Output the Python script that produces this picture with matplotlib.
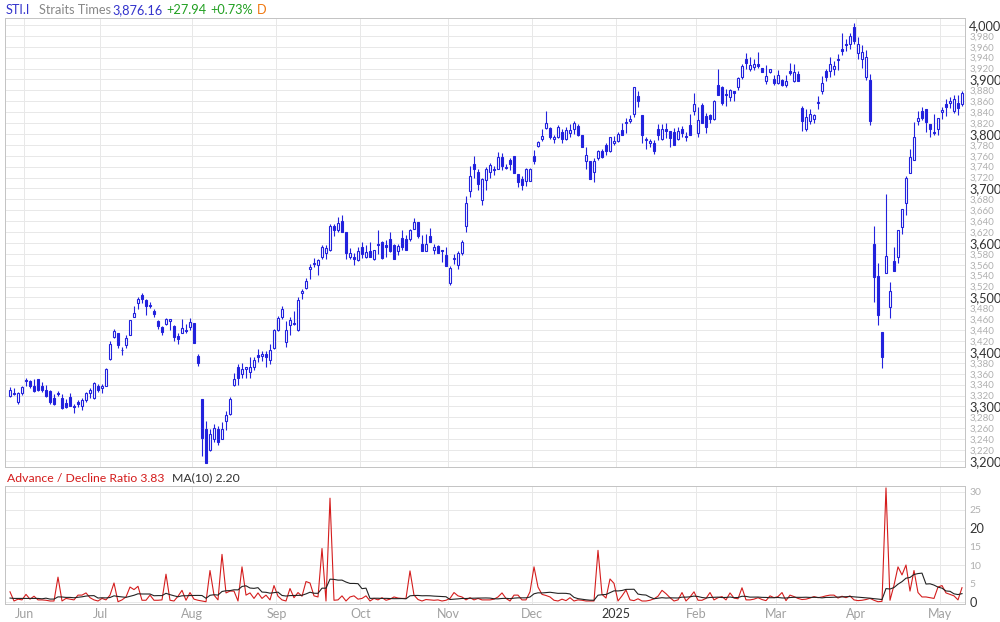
import matplotlib
matplotlib.use('Agg')
import matplotlib.pyplot as plt
import numpy as np
import pandas as pd
from matplotlib.ticker import MultipleLocator, FuncFormatter, FixedLocator

plt.rcParams['font.family'] = ['Lato', 'DejaVu Sans']

opens = [3320,3325,3309,3325,3348,3347,3338,3350,3338,3331,
         3328,3316,3324,3315,3306,3317,3300,3308,3300,3312,
         3324,3315,3338,3333,3338,3387,3428,3435,3403,3412,
         3432,3465,3489,3505,3496,3487,3476,3456,3446,3451,
         3456,3448,3430,3435,3441,3445,3453,3393,3313,3259,
         3220,3240,3258,3241,3274,3287,3339,3372,3360,3368,
         3363,3372,3395,3393,3397,3386,3408,3441,3465,3418,
         3450,3454,3441,3508,3517,3552,3561,3560,3575,3581,
         3587,3632,3624,3640,3620,3574,3574,3569,3592,3574,
         3585,3570,3599,3602,3596,3607,3596,3586,3609,3608,
         3607,3626,3639,3599,3586,3613,3588,3594,3588,3577,
         3526,3570,3560,3582,3631,3695,3744,3730,3678,3716,
         3730,3735,3736,3758,3738,3753,3760,3727,3718,3713,
         3713,3760,3778,3791,3811,3811,3790,3794,3804,3791,
         3802,3810,3815,3798,3751,3751,3730,3756,3769,3779,
         3769,3783,3788,3807,3821,3824,3837,3870,3834,3789,
         3784,3784,3810,3790,3810,3806,3804,3791,3809,3797,
         3816,3842,3801,3853,3833,3834,3827,3890,3886,3873,
         3867,3878,3886,3905,3938,3920,3922,3928,3921,3898,
         3913,3900,3893,3899,3890,3915,3897,3910,3848,3810,
         3823,3827,3857,3878,3916,3915,3920,3937,3955,3965,
         3966,3996,3948,3937,3905,3899,3599,3539,3437,3545,
         3483,3566,3575,3630,3673,3728,3753,3823,3843,3845,
         3819,3804,3810,3840,3855,3857,3843,3856,3855]

highs = [3336,3333,3326,3337,3353,3349,3350,3350,3345,3339,
         3331,3322,3328,3322,3314,3325,3305,3311,3316,3327,
         3333,3345,3342,3341,3371,3420,3442,3435,3409,3431,
         3459,3484,3501,3508,3498,3491,3479,3459,3447,3462,
         3461,3449,3435,3461,3452,3462,3453,3396,3314,3274,
         3258,3268,3265,3271,3292,3317,3361,3377,3379,3372,
         3391,3391,3405,3401,3401,3415,3443,3466,3484,3457,
         3465,3475,3500,3516,3536,3561,3572,3570,3597,3596,
         3634,3635,3647,3651,3620,3590,3582,3592,3601,3597,
         3602,3588,3624,3604,3605,3620,3598,3599,3623,3615,
         3626,3645,3639,3614,3616,3628,3599,3597,3588,3592,
         3557,3579,3585,3605,3686,3741,3760,3736,3720,3740,
         3747,3741,3766,3765,3745,3755,3760,3727,3723,3738,
         3738,3771,3788,3810,3842,3813,3799,3816,3809,3813,
         3818,3823,3818,3798,3776,3751,3755,3771,3773,3783,
         3795,3796,3804,3821,3829,3835,3887,3878,3834,3795,
         3791,3789,3818,3818,3820,3806,3811,3812,3815,3804,
         3837,3876,3849,3857,3839,3837,3862,3919,3888,3883,
         3882,3878,3905,3928,3948,3941,3938,3950,3921,3926,
         3919,3909,3917,3900,3909,3931,3928,3916,3851,3846,
         3846,3837,3870,3906,3919,3942,3934,3947,3986,3975,
         3986,4003,3978,3963,3954,3910,3632,3563,3437,3689,
         3528,3592,3624,3662,3722,3773,3822,3843,3849,3845,
         3819,3837,3830,3849,3864,3867,3871,3872,3878]

lows = [3317,3321,3305,3321,3338,3334,3327,3329,3326,3317,
        3304,3303,3319,3295,3298,3300,3288,3299,3294,3309,
        3316,3314,3327,3325,3337,3386,3425,3407,3395,3408,
        3431,3464,3478,3489,3467,3480,3465,3443,3431,3450,
        3440,3421,3415,3434,3434,3440,3417,3374,3209,3197,
        3219,3234,3229,3240,3257,3285,3338,3339,3352,3353,
        3353,3366,3382,3383,3372,3378,3405,3438,3461,3410,
        3432,3450,3439,3497,3515,3533,3556,3542,3570,3571,
        3586,3612,3620,3620,3571,3570,3559,3566,3573,3573,
        3574,3568,3580,3571,3575,3583,3571,3577,3588,3587,
        3604,3625,3609,3586,3586,3602,3580,3581,3565,3557,
        3522,3561,3553,3577,3620,3684,3720,3697,3669,3698,
        3719,3725,3735,3734,3735,3734,3729,3703,3698,3705,
        3713,3744,3777,3787,3809,3791,3784,3793,3784,3789,
        3795,3800,3796,3777,3736,3718,3712,3752,3755,3761,
        3766,3779,3786,3799,3802,3821,3831,3850,3784,3773,
        3777,3763,3789,3789,3793,3777,3779,3789,3795,3788,
        3799,3835,3794,3820,3801,3820,3826,3871,3853,3851,
        3861,3861,3880,3901,3920,3915,3917,3921,3913,3891,
        3911,3889,3892,3888,3887,3908,3895,3897,3805,3806,
        3818,3821,3846,3873,3898,3904,3909,3917,3944,3953,
        3956,3965,3937,3921,3899,3817,3492,3449,3370,3545,
        3463,3548,3564,3616,3651,3728,3753,3816,3826,3804,
        3795,3798,3799,3828,3833,3848,3838,3835,3852]

closes = [3330,3323,3324,3336,3346,3337,3328,3330,3330,3320,
          3308,3305,3323,3297,3299,3301,3299,3304,3312,3325,
          3330,3343,3330,3337,3368,3414,3438,3412,3403,3425,
          3458,3472,3497,3498,3485,3485,3469,3447,3436,3460,
          3460,3428,3424,3444,3439,3455,3417,3380,3242,3197,
          3249,3260,3235,3258,3285,3314,3351,3353,3368,3372,
          3372,3386,3391,3397,3390,3404,3441,3462,3478,3440,
          3459,3451,3495,3512,3531,3556,3563,3569,3593,3591,
          3632,3623,3636,3621,3581,3581,3571,3585,3579,3583,
          3575,3588,3597,3572,3593,3585,3571,3594,3593,3588,
          3624,3639,3612,3586,3599,3602,3592,3582,3586,3557,
          3554,3570,3581,3602,3673,3723,3736,3709,3718,3736,
          3743,3733,3757,3741,3738,3744,3729,3711,3706,3735,
          3736,3750,3785,3797,3821,3794,3794,3812,3790,3807,
          3808,3820,3798,3777,3761,3718,3750,3768,3758,3769,
          3794,3787,3800,3799,3821,3828,3886,3860,3799,3789,
          3788,3769,3799,3810,3806,3793,3779,3806,3802,3795,
          3799,3855,3826,3821,3813,3828,3861,3872,3857,3871,
          3880,3876,3902,3925,3931,3927,3928,3925,3913,3906,
          3919,3894,3908,3889,3897,3912,3913,3897,3823,3831,
          3836,3834,3857,3893,3905,3928,3925,3935,3953,3963,
          3980,3970,3966,3951,3941,3823,3538,3467,3391,3576,
          3511,3548,3624,3662,3719,3757,3794,3830,3830,3822,
          3810,3801,3830,3844,3850,3861,3865,3848,3876]

ad_ratio = [2.7,0.2,0.7,0.5,2.0,0.7,1.5,0.5,0.5,0.4,
            0.2,0.2,6.7,0.2,0.9,0.7,0.5,1.8,1.8,2.4,
            1.1,0.5,0.2,0.9,0.5,1.8,5.1,0.0,0.5,1.3,
            4.0,3.3,4.2,0.4,0.4,1.8,0.4,0.4,0.5,7.5,
            0.4,0.2,1.5,3.1,0.4,2.5,0.7,0.4,0.2,0.0,
            8.5,1.8,0.5,12.9,2.4,2.9,2.9,0.2,9.5,1.8,
            2.4,0.9,2.4,0.9,1.8,0.5,4.4,1.5,0.5,0.2,
            3.6,1.1,2.5,1.5,5.5,5.1,1.6,1.3,14.5,0.2,
            28.2,0.4,0.5,1.6,0.2,1.3,1.6,0.7,0.9,1.6,
            0.2,0.9,0.5,1.1,0.4,0.7,1.3,1.0,0.9,0.9,
            8.4,1.8,0.6,0.2,0.6,0.5,0.4,0.5,0.2,0.4,
            0.9,2.5,1.6,1.3,0.5,1.1,0.5,0.9,0.5,0.5,
            0.5,0.7,1.3,2.4,0.9,0.2,1.8,1.8,0.5,0.5,
            2.7,9.5,4.0,2.0,1.7,1.3,0.4,0.2,0.7,0.3,
            1.1,0.2,0.5,0.4,0.2,0.2,0.2,14.0,2.0,1.0,
            6.2,5.0,0.2,1.6,3.2,0.5,0.3,0.8,0.2,0.2,
            0.4,0.8,1.5,3.1,2.2,1.1,0.2,0.5,2.5,0.2,
            1.3,2.7,0.4,0.4,0.9,2.5,0.5,1.1,1.4,0.5,
            2.4,1.0,0.8,3.8,0.5,0.5,0.7,1.1,0.6,0.3,
            1.6,1.1,1.4,2.5,0.3,1.8,1.4,0.9,0.6,0.7,
            1.0,1.4,1.1,1.3,1.6,1.8,1.8,1.0,1.5,1.1,
            1.6,0.5,0.3,0.4,0.6,0.9,0.4,0.0,0.1,31.0,
            0.4,4.5,9.5,7.3,10.0,2.9,8.5,2.5,1.3,1.3,
            1.1,0.9,4.0,4.4,2.4,2.0,1.6,0.5,3.83]

# MA(10) values read for the first days (before a full 10-day window exists)
ma_head = [1.0,0.9,0.9,0.9,0.9,0.9,0.9,0.9,0.8]

month_labels = ['Jun','Jul','Aug','Sep','Oct','Nov','Dec','2025','Feb','Mar','Apr','May']
month_start_idx = [4,23,46,67,88,110,131,152,172,192,212,233]

BLUE = '#2222dd'
RED = '#d41c1c'
GRID = '#e8e8e8'
SPINE = '#c4c4c4'

o = np.array(opens, float); h = np.array(highs, float)
l = np.array(lows, float); c = np.array(closes, float)
n = len(c)
x = np.arange(n)

W, H = 1000, 622
fig = plt.figure(figsize=(10, 6.22), dpi=100)
ax = fig.add_axes([5/W, 1-467/H, 960/W, 449/H])
ax2 = fig.add_axes([5/W, 1-604.3/H, 960/W, 118.6/H])

px = 72/100  # one pixel in points

# ---- main candle panel
ax.vlines(x, l, h, color=BLUE, lw=1.1*px, zorder=3)
up = c >= o
body_lo = np.minimum(o, c)
body_h = np.maximum(np.abs(c - o), 1.5)
ax.bar(x[up], body_h[up], bottom=body_lo[up], width=0.5, facecolor='white',
       edgecolor=BLUE, linewidth=1.1*px, zorder=4)
ax.bar(x[~up], body_h[~up], bottom=body_lo[~up], width=0.5, facecolor=BLUE,
       edgecolor=BLUE, linewidth=1.1*px, zorder=4)

xlim = (-1.25, 238.75)
ax.set_xlim(*xlim)
ax.set_ylim(3188.9, 4012.8)
ax.yaxis.tick_right()
ax.yaxis.set_major_locator(MultipleLocator(100))
ax.yaxis.set_minor_locator(MultipleLocator(20))
ax.yaxis.set_major_formatter(FuncFormatter(lambda v, p: f'{v:,.0f}'))
ax.yaxis.set_minor_formatter(FuncFormatter(lambda v, p: '' if abs(v % 100) < 1e-6 or abs(v % 100 - 100) < 1e-6 else f'{v:,.0f}'))
ax.tick_params(axis='y', which='major', length=0, pad=3, labelsize=9.2, labelcolor='#333333')
ax.tick_params(axis='y', which='minor', length=0, pad=3, labelsize=7, labelcolor='#b0b0b0')
grid_x = [m - 0.4 for m in month_start_idx]
ax.xaxis.set_major_locator(FixedLocator(grid_x))
ax.tick_params(axis='x', which='both', length=0, labelbottom=False)
ax.grid(True, which='both', axis='y', color=GRID, lw=1*px, zorder=0)
ax.grid(True, which='major', axis='x', color=GRID, lw=1*px, zorder=0)
for s in ax.spines.values():
    s.set_color(SPINE); s.set_linewidth(1*px)

# ---- lower panel
ratio = pd.Series(ad_ratio, dtype=float)
ma = ratio.rolling(10).mean().to_numpy()
ma[:len(ma_head)] = ma_head
ax2.plot(x, ratio.to_numpy(), color=RED, lw=1.1*px, zorder=3)
ax2.plot(x, ma, color='#222222', lw=1.1*px, zorder=4)
ax2.set_xlim(*xlim)
ax2.set_ylim(-0.7, 31.6)
ax2.yaxis.tick_right()
ax2.set_yticks([0, 5, 10, 15, 20, 25, 30])
ax2.tick_params(axis='y', length=0, pad=3, labelsize=7.5, labelcolor='#b0b0b0')
for t in ax2.get_yticklabels():
    if t.get_text() in ('0', '20'):
        t.set_color('#333333'); t.set_fontsize(9.2)
ax2.set_xticks(grid_x)
ax2.set_xticklabels(month_labels)
ax2.tick_params(axis='x', length=0, pad=3, labelsize=9, labelcolor='#a0a0a0')
for t in ax2.get_xticklabels():
    if t.get_text() == '2025':
        t.set_color('#333333')
ax2.grid(True, axis='both', color=GRID, lw=1*px, zorder=0)
for s in ax2.spines.values():
    s.set_color(SPINE); s.set_linewidth(1*px)

# ---- header texts
ty = 1 - 10/H
fs = 9.2
fig.text(6/W, ty, 'STI.I', color='#3333cc', fontsize=fs, va='center', ha='left')
fig.text(39/W, ty, 'Straits Times', color='#888888', fontsize=fs, va='center', ha='left')
fig.text(112/W, ty, '3,876.16', color='#3333cc', fontsize=fs, va='center', ha='left')
fig.text(166/W, ty, '+27.94', color='#22a022', fontsize=fs, va='center', ha='left')
fig.text(210/W, ty, '+0.73%', color='#22a022', fontsize=fs, va='center', ha='left')
fig.text(257/W, ty, 'D', color='#f07810', fontsize=fs, va='center', ha='left')

ly = 1 - 478/H
fig.text(7/W, ly, 'Advance / Decline Ratio 3.83', color=RED, fontsize=8.8, va='center', ha='left')
fig.text(172/W, ly, 'MA(10) 2.20', color='#333333', fontsize=8.8, va='center', ha='left')

fig.savefig('out.png', dpi=100, facecolor='white')
